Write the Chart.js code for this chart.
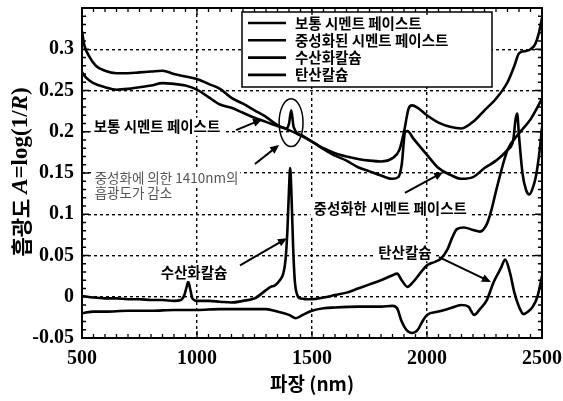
<!DOCTYPE html>
<html>
<head>
<meta charset="utf-8">
<script src="https://cdn.jsdelivr.net/npm/chart.js@4.4.1/dist/chart.umd.min.js"></script>
<style>
  html, body { margin: 0; padding: 0; background: #fff; }
</style>
</head>
<body>
<canvas id="c" width="563" height="401"></canvas>
<script>
// ---- spectra: wavelength (nm) and absorbance A = log(1/R) ----
const seriesLabels = ['보통 시멘트 페이스트', '중성화된 시멘트 페이스트', '수산화칼슘', '탄산칼슘'];

const ordinaryWl = [500, 510, 530, 560, 600, 650, 700, 750, 800, 850, 900, 950, 1000, 1050, 1100, 1150, 1200, 1250, 1300, 1350, 1390, 1400, 1410, 1420, 1460, 1500, 1550, 1600, 1650, 1700, 1750, 1800, 1850, 1880, 1900, 1920, 1935, 1960, 2000, 2050, 2100, 2150, 2200, 2250, 2300, 2350, 2380, 2400, 2430, 2450, 2470, 2485, 2500];
const ordinaryAbs = [0.322, 0.305, 0.292, 0.280, 0.274, 0.271, 0.271, 0.272, 0.273, 0.274, 0.270, 0.267, 0.264, 0.258, 0.252, 0.241, 0.234, 0.226, 0.218, 0.208, 0.204, 0.210, 0.226, 0.206, 0.195, 0.188, 0.180, 0.174, 0.170, 0.167, 0.165, 0.164, 0.168, 0.178, 0.200, 0.228, 0.232, 0.229, 0.220, 0.211, 0.206, 0.204, 0.212, 0.226, 0.240, 0.260, 0.280, 0.295, 0.298, 0.300, 0.306, 0.318, 0.338];

const carbonatedWl = [500, 520, 550, 600, 650, 700, 750, 800, 850, 900, 950, 1000, 1050, 1100, 1150, 1200, 1250, 1300, 1350, 1400, 1460, 1500, 1550, 1600, 1650, 1700, 1750, 1800, 1850, 1875, 1890, 1905, 1915, 1940, 2000, 2050, 2100, 2150, 2200, 2250, 2300, 2350, 2375, 2385, 2392, 2400, 2415, 2430, 2445, 2460, 2475, 2490, 2500];
const carbonatedAbs = [0.272, 0.265, 0.259, 0.254, 0.251, 0.252, 0.254, 0.256, 0.259, 0.258, 0.256, 0.251, 0.242, 0.233, 0.229, 0.223, 0.217, 0.212, 0.207, 0.202, 0.194, 0.188, 0.179, 0.171, 0.165, 0.157, 0.152, 0.147, 0.143, 0.145, 0.160, 0.200, 0.201, 0.192, 0.172, 0.156, 0.148, 0.143, 0.145, 0.156, 0.165, 0.178, 0.190, 0.215, 0.222, 0.195, 0.150, 0.130, 0.124, 0.132, 0.148, 0.178, 0.205];

const hydroxideWl = [500, 550, 600, 650, 700, 750, 800, 850, 900, 930, 945, 955, 962, 970, 980, 1000, 1050, 1100, 1150, 1200, 1250, 1300, 1320, 1340, 1360, 1375, 1385, 1393, 1400, 1405, 1410, 1418, 1425, 1435, 1450, 1500, 1550, 1600, 1650, 1700, 1750, 1800, 1850, 1870, 1890, 1915, 1940, 1980, 2000, 2030, 2060, 2090, 2110, 2130, 2160, 2200, 2230, 2260, 2280, 2300, 2330, 2350, 2400, 2450, 2500];
const hydroxideAbs = [0.001, -0.001, -0.002, -0.002, -0.003, -0.003, -0.004, -0.004, -0.005, -0.004, 0.002, 0.012, 0.018, 0.010, -0.002, -0.005, -0.005, -0.006, -0.007, -0.005, -0.002, 0.008, 0.012, 0.014, 0.020, 0.028, 0.045, 0.080, 0.130, 0.156, 0.130, 0.060, 0.020, 0.003, -0.002, -0.003, -0.001, 0.002, 0.005, 0.010, 0.015, 0.020, 0.026, 0.028, 0.020, 0.012, 0.018, 0.032, 0.038, 0.042, 0.046, 0.058, 0.072, 0.082, 0.084, 0.081, 0.079, 0.088, 0.105, 0.128, 0.160, 0.178, 0.198, 0.215, 0.240];

const calciteWl = [500, 550, 600, 700, 800, 900, 1000, 1100, 1200, 1300, 1350, 1400, 1430, 1460, 1500, 1550, 1600, 1700, 1800, 1850, 1870, 1890, 1910, 1935, 1960, 1980, 2000, 2050, 2100, 2150, 2180, 2205, 2230, 2260, 2290, 2320, 2340, 2360, 2380, 2400, 2420, 2440, 2460, 2480, 2500];
const calciteAbs = [-0.020, -0.018, -0.018, -0.017, -0.017, -0.016, -0.016, -0.015, -0.015, -0.015, -0.018, -0.022, -0.026, -0.022, -0.017, -0.014, -0.013, -0.012, -0.012, -0.011, -0.014, -0.030, -0.040, -0.044, -0.040, -0.030, -0.022, -0.018, -0.014, -0.010, -0.012, -0.022, -0.015, -0.004, 0.018, 0.034, 0.045, 0.030, 0.005, -0.012, -0.021, -0.018, -0.012, 0.000, 0.025];

// axis ticks and titles
const xTicks = [500, 1000, 1500, 2000, 2500];
const yTicks = [-0.05, 0, 0.05, 0.1, 0.15, 0.2, 0.25, 0.3];
const yTickLabels = ['-0.05', '0', '0.05', '0.1', '0.15', '0.2', '0.25', '0.3'];
const xAxisTitle = '파장 (nm)';

// callouts, anchored in data units (wavelength, absorbance)
const calloutTexts = ['보통 시멘트 페이스트', '수산화칼슘', '중성화한 시멘트 페이스트', '탄산칼슘'];
const calloutAt = [[826, 0.206], [987, 0.030], [1840, 0.107], [1904, 0.054]];
const noteLines = ['중성화에 의한 1410nm의', '흡광도가 감소'];
const noteAt = [[555, 0.144], [555, 0.126]];
const arrowFrom = [[1170, 0.202], [1252, 0.161], [1187, 0.038], [1904, 0.126], [2052, 0.048]];
const arrowTo = [[1283, 0.215], [1357, 0.184], [1391, 0.071], [2070, 0.151], [2278, 0.018]];
const ringAt = [1409, 0.211];
const ringSize = [52, 0.029];

const toPoints = (wl, a) => wl.map((w, i) => ({ x: w, y: a[i] }));
const spectra = [
  toPoints(ordinaryWl, ordinaryAbs),
  toPoints(carbonatedWl, carbonatedAbs),
  toPoints(hydroxideWl, hydroxideAbs),
  toPoints(calciteWl, calciteAbs)
];

const KR = '"Noto Sans CJK KR", "Noto Sans", sans-serif';
const SERIF = '"Liberation Serif", "DejaVu Serif", serif';

function arrow(ctx, x1, y1, x2, y2) {
  const ang = Math.atan2(y2 - y1, x2 - x1);
  const L = 9, W = 4;
  ctx.beginPath();
  ctx.moveTo(x1, y1);
  ctx.lineTo(x2 - Math.cos(ang) * L * 0.8, y2 - Math.sin(ang) * L * 0.8);
  ctx.stroke();
  ctx.beginPath();
  ctx.moveTo(x2, y2);
  ctx.lineTo(x2 - Math.cos(ang) * L + Math.sin(ang) * W, y2 - Math.sin(ang) * L - Math.cos(ang) * W);
  ctx.lineTo(x2 - Math.cos(ang) * L - Math.sin(ang) * W, y2 - Math.sin(ang) * L + Math.cos(ang) * W);
  ctx.closePath();
  ctx.fill();
}

const decorations = {
  id: 'decorations',
  afterDatasetsDraw(chart) {
    const { ctx, chartArea: a, scales: { x, y } } = chart;
    ctx.save();

    // callout labels on white patches
    ctx.textBaseline = 'middle';
    ctx.textAlign = 'center';
    ctx.font = 'bold 14.5px ' + KR;
    calloutTexts.forEach((t, i) => {
      const cx = x.getPixelForValue(calloutAt[i][0]);
      const cy = y.getPixelForValue(calloutAt[i][1]);
      const w = ctx.measureText(t).width;
      ctx.fillStyle = '#fff';
      ctx.fillRect(cx - w / 2 - 3, cy - 9, w + 6, 18);
      ctx.fillStyle = '#000';
      ctx.fillText(t, cx, cy);
    });

    // grey note about the 1410 nm band
    ctx.font = '13.5px ' + KR;
    ctx.textAlign = 'left';
    noteLines.forEach((t, i) => {
      const lx = x.getPixelForValue(noteAt[i][0]);
      const ly = y.getPixelForValue(noteAt[i][1]);
      const w = ctx.measureText(t).width;
      ctx.fillStyle = '#fff';
      ctx.fillRect(lx - 2, ly - 8, w + 4, 16);
      ctx.fillStyle = '#555';
      ctx.fillText(t, lx, ly);
    });

    // arrows
    ctx.strokeStyle = '#000';
    ctx.fillStyle = '#000';
    ctx.lineWidth = 2;
    arrowFrom.forEach((f, i) => {
      arrow(ctx, x.getPixelForValue(f[0]), y.getPixelForValue(f[1]),
        x.getPixelForValue(arrowTo[i][0]), y.getPixelForValue(arrowTo[i][1]));
    });

    // ring around the 1410 nm band
    const rcx = x.getPixelForValue(ringAt[0]);
    const rcy = y.getPixelForValue(ringAt[1]);
    const rrx = x.getPixelForValue(ringAt[0] + ringSize[0]) - rcx;
    const rry = rcy - y.getPixelForValue(ringAt[1] + ringSize[1]);
    ctx.lineWidth = 1.5;
    ctx.beginPath();
    ctx.ellipse(rcx, rcy, rrx, rry, 0, 0, Math.PI * 2);
    ctx.stroke();

    // legend box
    const lx = 242, ly = 12, lw = 250, lh = 75;
    ctx.fillStyle = '#fff';
    ctx.fillRect(lx, ly, lw, lh);
    ctx.lineWidth = 1.5;
    ctx.strokeRect(lx, ly, lw, lh);
    ctx.font = 'bold 14.5px ' + KR;
    ctx.textAlign = 'left';
    ctx.fillStyle = '#000';
    chart.data.datasets.forEach((ds, i) => {
      const ry = ly + 11 + i * 17.3;
      ctx.lineWidth = 2.6;
      ctx.beginPath();
      ctx.moveTo(lx + 6, ry);
      ctx.lineTo(lx + 44, ry);
      ctx.stroke();
      ctx.fillText(ds.label, lx + 53, ry);
    });

    // frame and inward ticks
    ctx.lineWidth = 2;
    ctx.strokeRect(a.left, a.top, a.right - a.left, a.bottom - a.top);
    ctx.lineWidth = 1.3;
    ctx.beginPath();
    for (let v = 550; v < 2500; v += 50) {
      const p = x.getPixelForValue(v);
      const len = v % 500 === 0 ? 7 : 4;
      ctx.moveTo(p, a.bottom); ctx.lineTo(p, a.bottom - len);
      ctx.moveTo(p, a.top); ctx.lineTo(p, a.top + len);
    }
    for (let k = -4; k < 35; k++) {
      const p = y.getPixelForValue(k / 100);
      const len = k % 5 === 0 ? 7 : 4;
      ctx.moveTo(a.left, p); ctx.lineTo(a.left + len, p);
      ctx.moveTo(a.right, p); ctx.lineTo(a.right - len, p);
    }
    ctx.stroke();

    ctx.restore();
  }
};

// axis titles: rotated y title with italic symbols, and the x title
const axisTitles = {
  id: 'axisTitles',
  afterDraw(chart) {
    const { ctx, chartArea: a } = chart;
    const parts = [
      ['흡광도 ', 'bold 21px ' + KR],
      ['A', 'italic bold 23px ' + SERIF],
      ['=log(1/', 'bold 23px ' + SERIF],
      ['R', 'italic bold 23px ' + SERIF],
      [')', 'bold 23px ' + SERIF]
    ];
    let total = 0;
    parts.forEach(p => { ctx.font = p[1]; total += ctx.measureText(p[0]).width; });
    ctx.save();
    ctx.fillStyle = '#000';
    ctx.translate(20, 172);
    ctx.rotate(-Math.PI / 2);
    ctx.textBaseline = 'middle';
    ctx.textAlign = 'left';
    let cx = -total / 2;
    parts.forEach(p => {
      ctx.font = p[1];
      ctx.fillText(p[0], cx, 1);
      cx += ctx.measureText(p[0]).width;
    });
    ctx.restore();

    ctx.save();
    ctx.fillStyle = '#000';
    ctx.font = 'bold 19px ' + KR;
    ctx.textAlign = 'center';
    ctx.textBaseline = 'middle';
    ctx.fillText(xAxisTitle, (a.left + a.right) / 2, 384);
    ctx.restore();
  }
};

new Chart(document.getElementById('c'), {
  type: 'scatter',
  data: {
    datasets: spectra.map((pts, i) => ({
      label: seriesLabels[i],
      data: pts,
      showLine: true,
      borderColor: '#000',
      borderWidth: 2.6,
      pointRadius: 0,
      cubicInterpolationMode: 'monotone'
    }))
  },
  options: {
    responsive: false,
    animation: false,
    layout: { padding: { left: 0, right: 21, top: 8, bottom: 0 } },
    plugins: { legend: { display: false }, tooltip: { enabled: false } },
    scales: {
      x: {
        type: 'linear',
        min: 500,
        max: 2500,
        afterBuildTicks: s => { s.ticks = xTicks.map(v => ({ value: v })); },
        afterFit: s => { s.height = 63; s.paddingLeft = 0; s.paddingRight = 0; },
        grid: { color: '#000', lineWidth: 1.4, drawTicks: false },
        border: { display: false, dash: [3, 3] },
        ticks: {
          padding: 9,
          color: '#000',
          maxRotation: 0,
          font: { family: SERIF, size: 20, weight: 'bold' },
          callback: v => String(v)
        }
      },
      y: {
        type: 'linear',
        min: -0.05,
        max: 0.35,
        afterBuildTicks: s => { s.ticks = yTicks.map(v => ({ value: v })); },
        afterFit: s => { s.width = 82; s.paddingTop = 0; s.paddingBottom = 0; },
        grid: { color: '#000', lineWidth: 1.4, drawTicks: false },
        border: { display: false, dash: [3, 3] },
        ticks: {
          padding: 8,
          color: '#000',
          font: { family: SERIF, size: 20, weight: 'bold' },
          callback: (v, i) => yTickLabels[i]
        }
      }
    }
  },
  plugins: [decorations, axisTitles]
});
</script>
</body>
</html>
